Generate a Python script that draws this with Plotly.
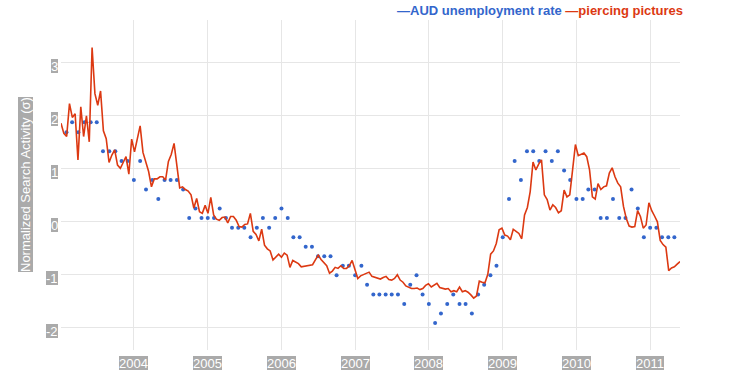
import pandas as pd
import plotly.graph_objects as go

# ---- data ----
red_start = "2003-01-05"   # weekly Google series, sampled every 2 weeks
piercing = [1.85, 1.66, 1.60, 2.22, 1.96, 2.03, 1.16, 2.16, 1.60, 1.99,
            1.50, 3.28, 2.41, 2.19, 2.46, 1.71, 1.56, 1.11, 1.25, 1.35,
            1.06, 1.00, 1.11, 1.22, 0.89, 1.55, 1.31, 1.58, 1.80, 1.30,
            1.12, 0.94, 0.65, 0.80, 0.80, 0.84, 0.84, 0.78, 1.13, 1.26,
            1.47, 1.03, 0.63, 0.65, 0.60, 0.57, 0.50, 0.25, 0.43, 0.18,
            0.15, 0.30, 0.15, 0.45, 0.12, 0.04, 0.02, 0.07, 0.08, -0.03,
            0.09, 0.09, 0.02, -0.10, -0.11, -0.06, -0.05, 0.15, -0.19, -0.25,
            -0.37, -0.15, -0.45, -0.52, -0.56, -0.73, -0.67, -0.62, -0.68, -0.60,
            -0.64, -0.87, -0.74, -0.77, -0.80, -0.86, -0.85, -0.85, -0.83, -0.82,
            -0.73, -0.64, -0.72, -0.79, -0.84, -0.98, -0.94, -0.87, -0.89, -0.84,
            -0.89, -0.89, -0.84, -0.74, -0.92, -1.08, -1.03, -1.01, -0.99, -0.96,
            -1.04, -1.06, -1.07, -1.09, -1.06, -1.04, -1.10, -1.11, -1.08, -1.01,
            -1.11, -1.15, -1.22, -1.24, -1.27, -1.27, -1.26, -1.29, -1.27, -1.21,
            -1.18, -1.24, -1.21, -1.17, -1.25, -1.27, -1.28, -1.27, -1.33, -1.31,
            -1.33, -1.24, -1.33, -1.31, -1.34, -1.39, -1.45, -1.41, -1.13, -1.15,
            -1.16, -1.00, -0.62, -0.56, -0.42, -0.16, -0.13, -0.26, -0.28, -0.35,
            -0.15, -0.19, -0.23, -0.33, 0.12, 0.26, 0.56, 1.12, 0.97, 1.08,
            1.16, 0.50, 0.41, 0.21, 0.31, 0.26, 0.16, 0.20, 0.59, 0.46,
            0.50, 0.97, 1.45, 1.24, 1.27, 1.29, 1.22, 0.97, 0.46, 0.42,
            0.71, 0.60, 0.65, 0.67, 0.91, 1.01, 0.84, 0.72, 0.65, 0.28,
            0.05, -0.09, -0.11, -0.10, 0.20, 0.09, -0.13, -0.07, 0.35, 0.20,
            0.10, -0.01, -0.36, -0.44, -0.49, -0.93, -0.88, -0.86, -0.81, -0.76]

blue_start = "2003-02-01"  # monthly series
unemployment = [1.68, 1.87, 1.68, 1.87, 1.87, 1.87, 1.32, 1.32, 1.32, 1.14,
                1.14, 0.78, 1.14, 0.60, 0.78, 0.42, 0.78, 0.78, 0.78, 0.60,
                0.06, 0.24, 0.06, 0.06, 0.06, 0.24, 0.06, -0.12, -0.12, -0.12,
                -0.30, -0.12, 0.06, -0.12, 0.06, 0.24, 0.06, -0.30, -0.30, -0.48,
                -0.48, -0.66, -0.66, -0.66, -1.02, -0.84, -0.84, -1.02, -0.84, -1.20,
                -1.38, -1.38, -1.38, -1.38, -1.38, -1.56, -1.20, -1.02, -1.38, -1.56,
                -1.92, -1.74, -1.56, -1.38, -1.56, -1.56, -1.74, -1.38, -1.20, -1.02,
                -0.84, -0.30, 0.42, 1.14, 0.78, 1.32, 1.32, 1.14, 1.32, 1.14,
                1.32, 0.96, 0.78, 0.42, 0.42, 0.60, 0.60, 0.06, 0.06, 0.42,
                0.06, 0.06, 0.60, 0.24, -0.30, -0.12, -0.12, -0.30, -0.30, -0.30]

year_ticks = [2004, 2005, 2006, 2007, 2008, 2009, 2010, 2011]
y_ticks = [-2, -1, 0, 1, 2, 3]

red_dates = pd.date_range(red_start, periods=len(piercing), freq="14D")
blue_dates = pd.date_range(blue_start, periods=len(unemployment), freq="MS")

BLUE = "#3366cc"
RED = "#dc3912"
LABEL_BG = "#aaaaaa"
FONT = "Liberation Sans, Arial, sans-serif"

fig = go.Figure()
fig.add_trace(go.Scatter(x=blue_dates, y=unemployment, mode="markers",
                         marker=dict(color=BLUE, size=4), name="AUD unemployment rate"))
fig.add_trace(go.Scatter(x=red_dates, y=piercing, mode="lines",
                         line=dict(color=RED, width=1.6), name="piercing pictures"))

annotations = []
for yr in year_ticks:
    annotations.append(dict(x=f"{yr}-01-01", xref="x", y=0, yref="paper",
                            yanchor="top", xanchor="center", yshift=-6,
                            text=str(yr), showarrow=False,
                            font=dict(family=FONT, size=13, color="white"),
                            bgcolor=LABEL_BG, borderpad=0, borderwidth=0, height=14))
for v in y_ticks:
    annotations.append(dict(x=0, xref="paper", y=v, yref="y",
                            xanchor="right", yanchor="middle", xshift=-3, yshift=-4,
                            text=str(v), showarrow=False,
                            font=dict(family=FONT, size=13, color="white"),
                            bgcolor=LABEL_BG, borderpad=0, borderwidth=0, height=14))
annotations.append(dict(x=0, xref="paper", y=0.5, yref="paper",
                        xanchor="center", yanchor="middle", xshift=-36,
                        text="Normalized Search Activity (σ)", textangle=-90,
                        showarrow=False,
                        font=dict(family=FONT, size=13, color="white"),
                        bgcolor=LABEL_BG, borderpad=0, borderwidth=0))
annotations.append(dict(x=1, xref="paper", y=1, yref="paper",
                        xanchor="right", yanchor="middle", xshift=5, yshift=9.5,
                        text=(f"<b><span style='color:{BLUE}'>—AUD unemployment rate</span> "
                              f"<span style='color:{RED}'>—piercing pictures</span></b>"),
                        showarrow=False, font=dict(family=FONT, size=13)))

fig.update_layout(
    width=747, height=384,
    margin=dict(l=61, r=67, t=20, b=34),
    paper_bgcolor="white", plot_bgcolor="white",
    showlegend=False,
    annotations=annotations,
    xaxis=dict(type="date", range=[red_dates[0], red_dates[-1]],
               tickvals=[f"{y}-01-01" for y in year_ticks], showticklabels=False,
               showgrid=True, gridcolor="#e6e6e6", gridwidth=1,
               zeroline=False, showline=False, ticks=""),
    yaxis=dict(range=[-2.43, 3.8], tickvals=y_ticks, showticklabels=False,
               showgrid=True, gridcolor="#e6e6e6", gridwidth=1,
               zeroline=False, showline=False, ticks=""),
)

# remove the browser's default 8px body margin so the figure fills the window
fig.write_html("out.html",
               config={"displayModeBar": False},
               post_script="document.body.style.margin='0px';document.body.style.overflow='hidden';")
